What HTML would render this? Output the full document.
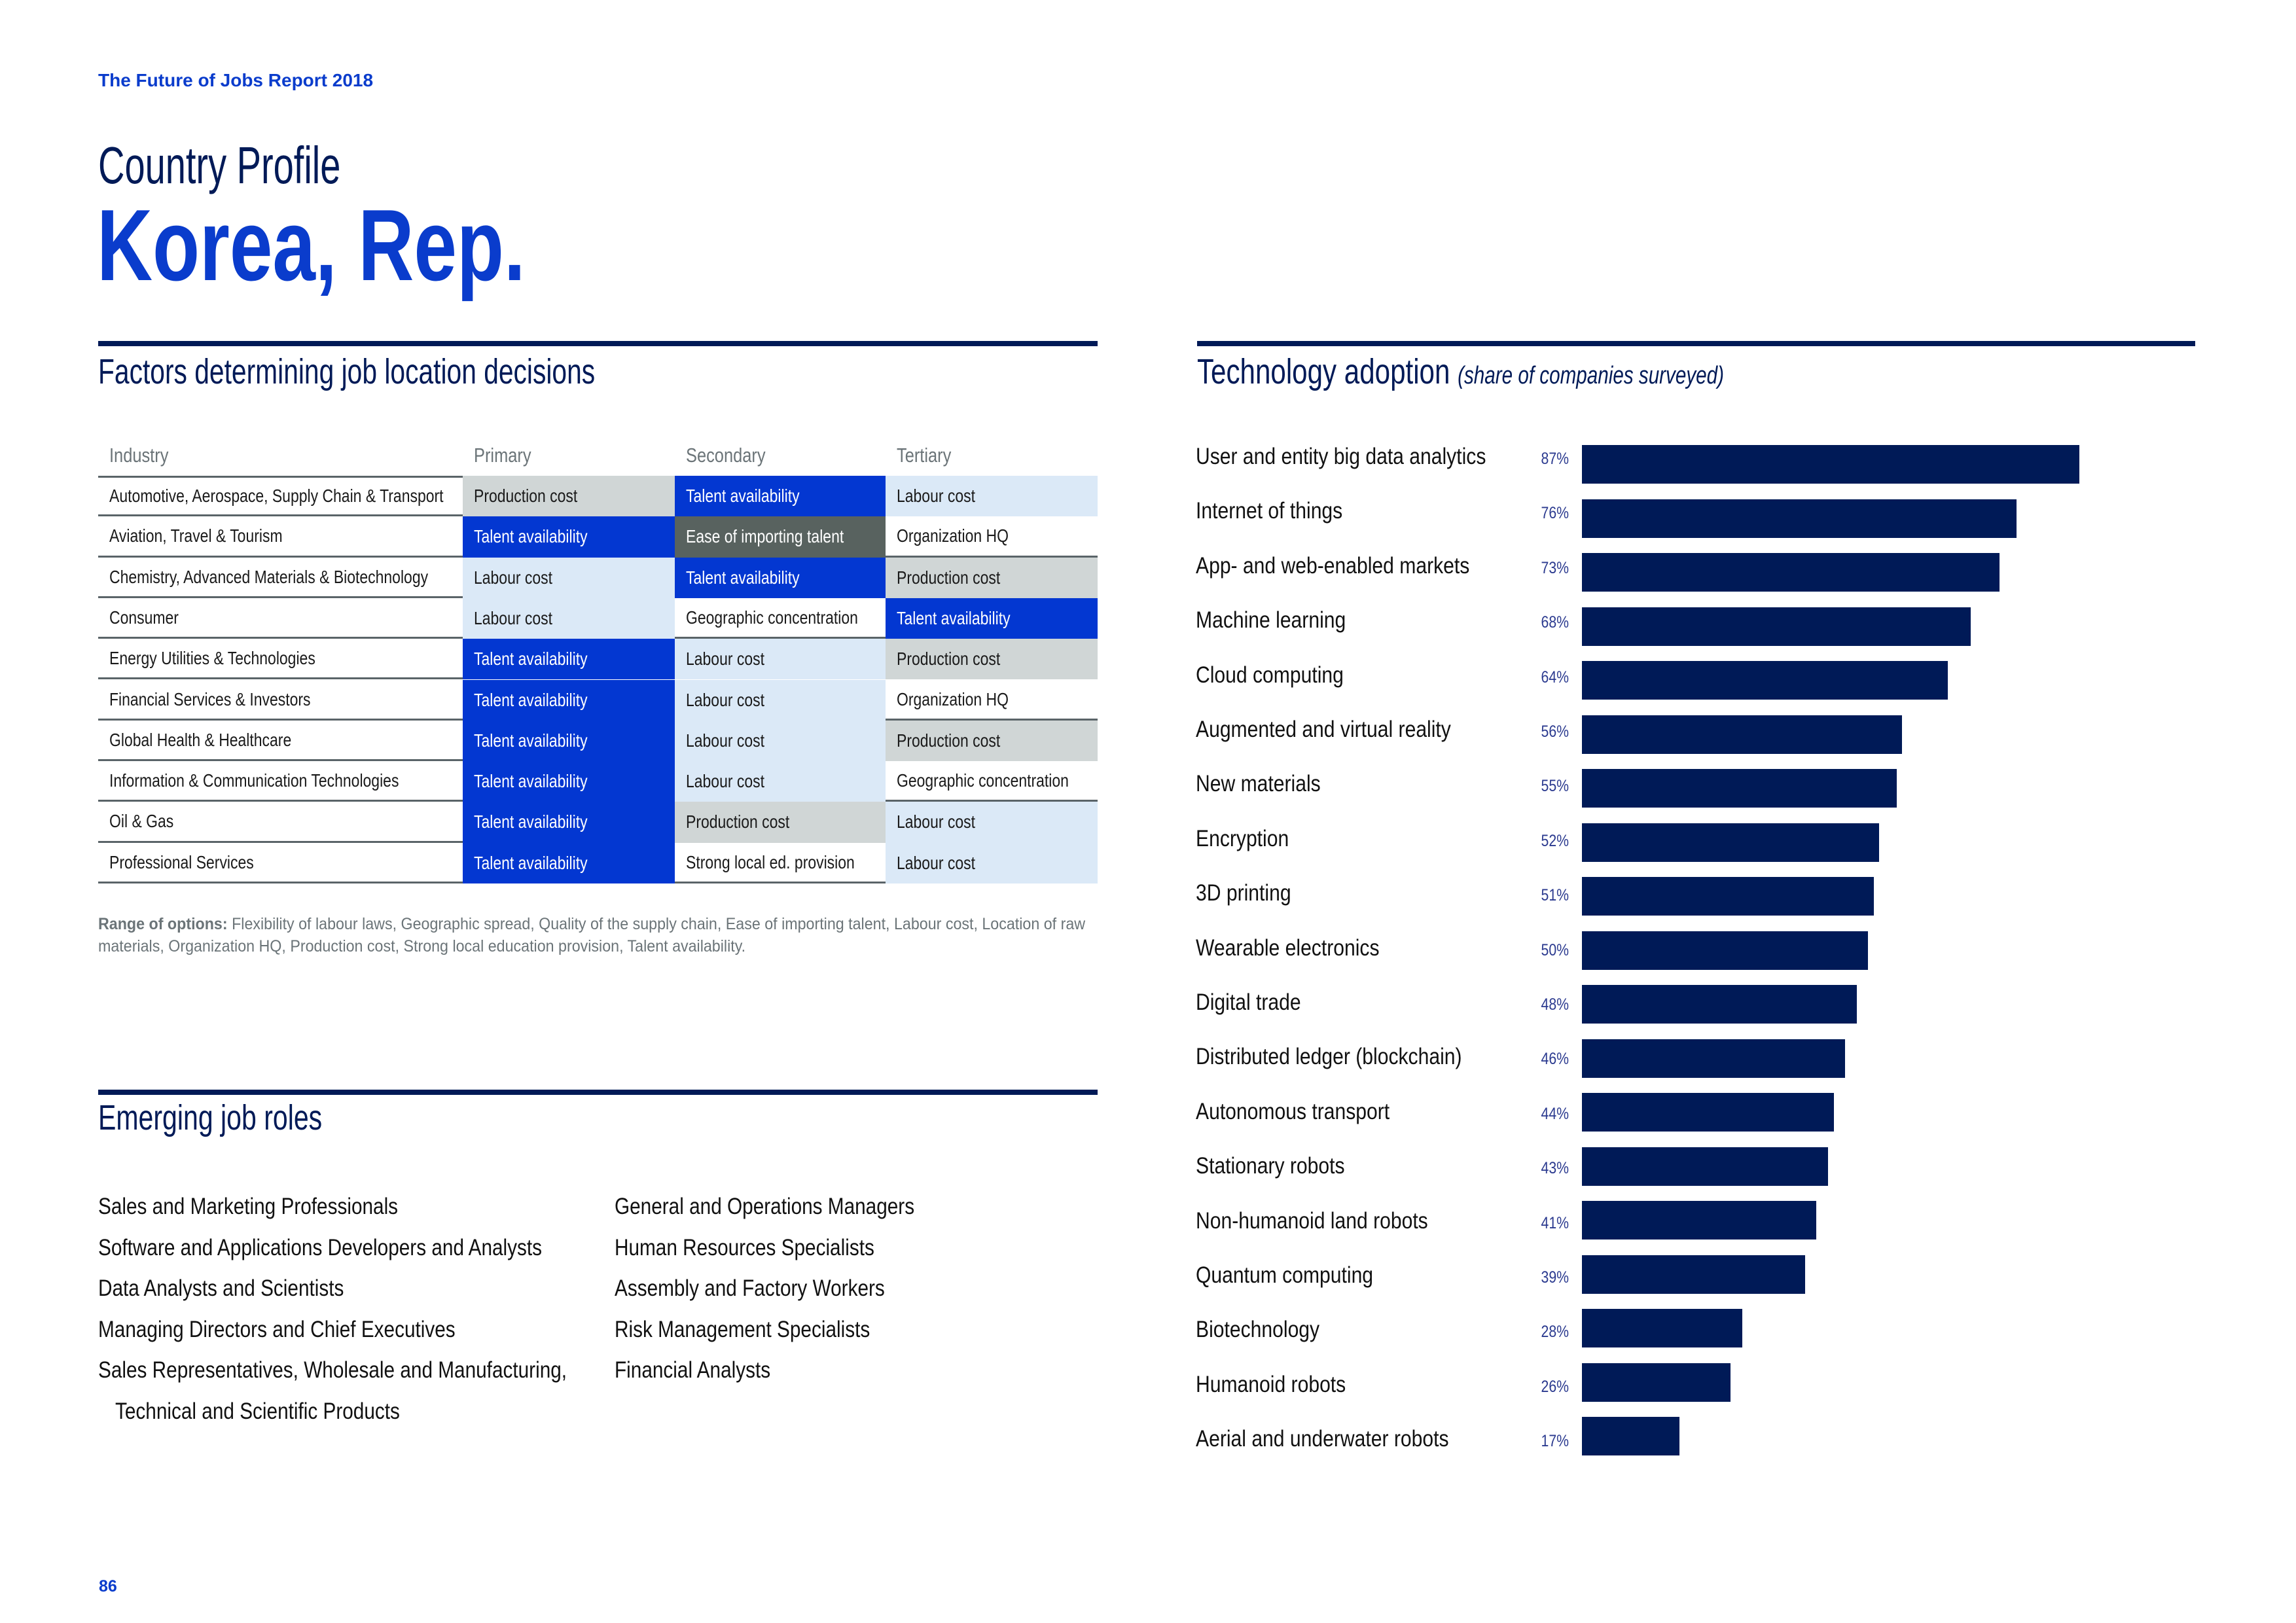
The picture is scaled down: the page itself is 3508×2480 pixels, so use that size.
<!DOCTYPE html>
<html><head><meta charset="utf-8">
<style>
html,body{margin:0;padding:0;background:#fff;}
body{width:3508px;height:2480px;position:relative;overflow:hidden;font-family:"Liberation Sans",sans-serif;}
.a{position:absolute;white-space:nowrap;}
.c{display:inline-block;transform:scaleX(.8);transform-origin:0 50%;white-space:nowrap;}
.cr{display:inline-block;transform:scaleX(.85);transform-origin:100% 50%;white-space:nowrap;}
.rule{position:absolute;height:8px;background:#001a57;}
.cell{position:absolute;box-sizing:border-box;font-size:28px;line-height:62px;padding-left:17px;color:#1a1a1a;overflow:visible;}
.cell .c{transform:scaleX(.82);}
.job{position:absolute;font-size:35px;color:#111;}
.job .c{transform:scaleX(.85);}
</style></head>
<body>
<div class="a" style="left:150px;top:107px;font-size:28px;font-weight:bold;color:#0a3ccc;">The Future of Jobs Report 2018</div>
<div class="a" style="left:150px;top:208px;font-size:80px;color:#001a57;line-height:90px;"><span class="c" style="transform:scaleX(.70)">Country Profile</span></div>
<div class="a" style="left:148px;top:290px;font-size:155px;font-weight:bold;color:#0a3ccc;line-height:170px;"><span class="c" style="transform:scaleX(.76)">Korea, Rep.</span></div>

<div class="rule" style="left:150px;top:521px;width:1527px;"></div>
<div class="a" style="left:150px;top:536px;font-size:54px;color:#001a57;line-height:64px;"><span class="c" style="transform:scaleX(.755)">Factors determining job location decisions</span></div>

<div id="table"></div>

<div class="a" style="left:150px;top:1395px;font-size:25px;color:#6b7478;line-height:34px;"><span class="c" style="transform:scaleX(.93)"><b>Range of options:</b> Flexibility of labour laws, Geographic spread, Quality of the supply chain, Ease of importing talent, Labour cost, Location of raw</span><br><span class="c" style="transform:scaleX(.93)">materials, Organization HQ, Production cost, Strong local education provision, Talent availability.</span></div>

<div class="rule" style="left:150px;top:1665px;width:1527px;"></div>
<div class="a" style="left:150px;top:1676px;font-size:54px;color:#001a57;line-height:64px;"><span class="c" style="transform:scaleX(.76)">Emerging job roles</span></div>

<div id="jobs"></div>

<div class="a" style="left:151px;top:2410px;font-size:25px;font-weight:bold;color:#0a3ccc;">86</div>

<div class="rule" style="left:1829px;top:521px;width:1525px;"></div>
<div class="a" style="left:1829px;top:536px;font-size:54px;color:#001a57;line-height:64px;"><span class="c" style="transform:scaleX(.78)">Technology adoption <i style="font-size:38px">(share of companies surveyed)</i></span></div>

<div id="chart"></div>

<script>
const industries=["Automotive, Aerospace, Supply Chain & Transport","Aviation, Travel & Tourism","Chemistry, Advanced Materials & Biotechnology","Consumer","Energy Utilities & Technologies","Financial Services & Investors","Global Health & Healthcare","Information & Communication Technologies","Oil & Gas","Professional Services"];
const primary=["Production cost","Talent availability","Labour cost","Labour cost","Talent availability","Talent availability","Talent availability","Talent availability","Talent availability","Talent availability"];
const secondary=["Talent availability","Ease of importing talent","Talent availability","Geographic concentration","Labour cost","Labour cost","Labour cost","Labour cost","Production cost","Strong local ed. provision"];
const tertiary=["Labour cost","Organization HQ","Production cost","Talent availability","Production cost","Organization HQ","Production cost","Geographic concentration","Labour cost","Labour cost"];
const techLabels=["User and entity big data analytics","Internet of things","App- and web-enabled markets","Machine learning","Cloud computing","Augmented and virtual reality","New materials","Encryption","3D printing","Wearable electronics","Digital trade","Distributed ledger (blockchain)","Autonomous transport","Stationary robots","Non-humanoid land robots","Quantum computing","Biotechnology","Humanoid robots","Aerial and underwater robots"];
const techValues=[87,76,73,68,64,56,55,52,51,50,48,46,44,43,41,39,28,26,17];
const jobsCol1=["Sales and Marketing Professionals","Software and Applications Developers and Analysts","Data Analysts and Scientists","Managing Directors and Chief Executives","Sales Representatives, Wholesale and Manufacturing,"];
const jobsCol2=["General and Operations Managers","Human Resources Specialists","Assembly and Factory Workers","Risk Management Specialists","Financial Analysts"];

function styleFor(v){
  if(v==="Talent availability") return {bg:"#0337d1",fg:"#fff"};
  if(v==="Ease of importing talent") return {bg:"#58625f",fg:"#fff"};
  if(v==="Production cost") return {bg:"#d0d6d6",fg:"#1a1a1a"};
  if(v==="Labour cost") return {bg:"#dbe9f7",fg:"#1a1a1a"};
  return {bg:"#fff",fg:"#1a1a1a",line:true};
}
const T=document.getElementById('table');
const colX=[150,707,1031,1353,1677];
const rowTop=727,rowH=62.3;
const heads=["Industry","Primary","Secondary","Tertiary"];
heads.forEach((h,i)=>{
  const d=document.createElement('div');
  
  
  d.className='cell';
  d.style.left=colX[i]+'px';d.style.top=(rowTop-rowH)+'px';d.style.width=(colX[i+1]-colX[i])+'px';d.style.height=rowH+'px';
  d.style.color='#6b7478';d.style.fontSize='31px';
  d.innerHTML='<span class="c">'+h+'</span>';
  T.appendChild(d);
});
industries.forEach((ind,r)=>{
  const vals=[ind,primary[r],secondary[r],tertiary[r]];
  vals.forEach((v,i)=>{
    const d=document.createElement('div');
    
    
    d.className='cell';
    let s=i===0?{bg:"#fff",fg:"#1a1a1a",line:true}:styleFor(v);
    d.style.left=colX[i]+'px';d.style.top=(rowTop+r*rowH)+'px';d.style.width=(colX[i+1]-colX[i])+'px';d.style.height=rowH+'px';
    d.style.background=s.bg;d.style.color=s.fg;
    if(s.line){d.style.borderBottom='3px solid #5a6468';d.style.lineHeight='59px';}
    if(r===0&&s.line){d.style.borderTop='3px solid #5a6468';d.style.lineHeight='56px';}
    const sp=document.createElement('span');sp.className='c';sp.textContent=v;
    d.appendChild(sp);
    T.appendChild(d);
  });
});

const J=document.getElementById('jobs');
function job(text,x,y){
  const d=document.createElement('div');
  
  
  d.className='job';d.style.left=x+'px';d.style.top=y+'px';
  d.innerHTML='<span class="c">'+text+'</span>';
  J.appendChild(d);
}
jobsCol1.forEach((t,i)=>job(t,150,1824+i*62.6));
job("Technical and Scientific Products",176,1824+5*62.6);
jobsCol2.forEach((t,i)=>job(t,939,1824+i*62.6));

const C=document.getElementById('chart');
const x0=2417,pxPer=8.74,top0=680,pitch=82.5,barH=59,labelPitch=83.4;
function xs(v){return v*pxPer;}
techLabels.forEach((lab,i)=>{
  const y=top0+i*pitch;
  const ly=top0+i*labelPitch;
  const l=document.createElement('div');
  
  
  l.className='a';l.style.left='1827px';l.style.top=(ly-12)+'px';l.style.fontSize='35px';l.style.color='#111';l.style.lineHeight='60px';
  l.innerHTML='<span class="c" style="transform:scaleX(.86)">'+lab+'</span>';
  C.appendChild(l);
  const p=document.createElement('div');
  
  
  p.className='a';p.style.left='2291px';p.style.width='106px';p.style.textAlign='right';p.style.top=(ly-9)+'px';p.style.fontSize='25px';p.style.color='#2b3a8f';p.style.lineHeight='60px';
  p.innerHTML='<span class="cr">'+techValues[i]+'%</span>';
  C.appendChild(p);
  const b=document.createElement('div');
  
  
  b.className='a';b.style.left=x0+'px';b.style.top=y+'px';b.style.height=barH+'px';b.style.width=xs(techValues[i])+'px';b.style.background='#001a57';
  C.appendChild(b);
});
</script>
</body></html>
